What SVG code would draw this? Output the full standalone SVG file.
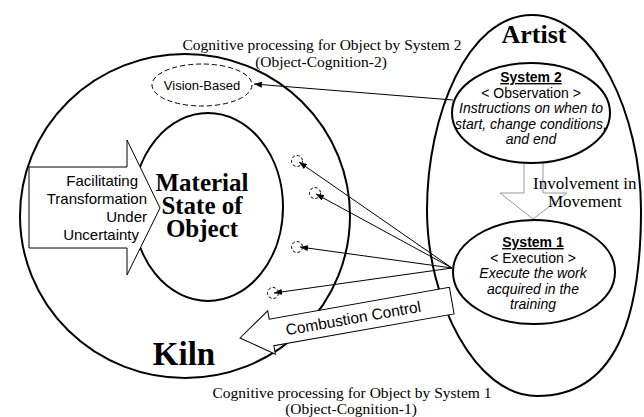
<svg xmlns="http://www.w3.org/2000/svg" width="644" height="417" viewBox="0 0 644 417">
<defs>
<style>
.o{fill:#fff;stroke:#000;stroke-width:2}
.ser{font-family:"Liberation Serif","Times New Roman",serif;fill:#000}
.sans{font-family:"Liberation Sans",Arial,sans-serif;fill:#000}
.b{font-weight:bold}
.i{font-style:italic}
.u{text-decoration:underline}
.c{stroke:#000;stroke-width:1;fill:none}
.dash{fill:none;stroke:#000;stroke-width:1;stroke-dasharray:5,3}
</style>
<marker id="ah" markerUnits="userSpaceOnUse" markerWidth="8" markerHeight="6" refX="8" refY="3" orient="auto">
<path d="M0,0 L8,3 L0,6 Z" fill="#000"/>
</marker>
</defs>
<rect width="644" height="417" fill="#fff"/>

<g id="kiln">
<ellipse class="o" cx="185" cy="216" rx="165" ry="162"/>
<text class="ser b" x="184" y="365" font-size="33" text-anchor="middle">Kiln</text>
</g>

<g id="material-state">
<ellipse class="o" cx="208" cy="207" rx="75" ry="94"/>
<text class="ser b" font-size="25" text-anchor="middle"><tspan x="202" y="191">Material</tspan><tspan x="202" y="214">State of</tspan><tspan x="202" y="237">Object</tspan></text>
</g>

<g id="facilitating">
<polygon class="o" style="stroke-width:1" points="29,167 127,167 127,140 160,208 127,275 127,248 29,248"/>
<text class="sans" font-size="15" text-anchor="end"><tspan x="138" y="186">Facilitating</tspan><tspan x="147" y="204">Transformation</tspan><tspan x="147" y="222">Under</tspan><tspan x="139" y="240">Uncertainty</tspan></text>
</g>

<g id="vision-based">
<ellipse class="dash" cx="202" cy="85" rx="50" ry="21"/>
<text class="sans" x="202" y="90" font-size="13" text-anchor="middle">Vision-Based</text>
</g>

<g id="targets">
<circle class="dash" style="stroke-dasharray:3,2" cx="297" cy="161" r="5.5"/>
<circle class="dash" style="stroke-dasharray:3,2" cx="315" cy="193" r="5.5"/>
<circle class="dash" style="stroke-dasharray:3,2" cx="297" cy="247" r="5.5"/>
<circle class="dash" style="stroke-dasharray:3,2" cx="273" cy="293" r="5.5"/>
</g>

<g id="artist">
<path class="o" d="M532,15 C595,15 641,115 641,210 C641,320 615,396 537,396 C475,396 427,300 427,210 C427,115 468,15 532,15 Z"/>
<text class="ser b" x="534" y="43" font-size="26" text-anchor="middle">Artist</text>
</g>

<g id="involvement">
<polygon fill="#fff" stroke="#999" stroke-width="1" points="524,160 543,160 543,193 567,193 533,219 500,193 524,193"/>
<text class="ser" font-size="17"><tspan x="533" y="189">Involvement in</tspan><tspan x="548" y="207">Movement</tspan></text>
</g>

<g id="system2">
<ellipse class="o" cx="531" cy="113" rx="79" ry="50"/>
<text class="sans" font-size="14" text-anchor="middle"><tspan class="b u" x="531" y="82">System 2</tspan><tspan x="531" y="97.5">&lt; Observation &gt;</tspan><tspan class="i" x="531" y="113">Instructions on when to</tspan><tspan class="i" x="531" y="128.5">start, change conditions,</tspan><tspan class="i" x="531" y="144">and end</tspan></text>
</g>

<g id="system1">
<ellipse class="o" cx="534" cy="272" rx="81" ry="52"/>
<text class="sans" font-size="14" text-anchor="middle"><tspan class="b u" x="533" y="247">System 1</tspan><tspan x="533" y="262.5">&lt; Execution &gt;</tspan><tspan class="i" x="533" y="278">Execute the work</tspan><tspan class="i" x="533" y="293.5">acquired in the</tspan><tspan class="i" x="533" y="309">training</tspan></text>
</g>

<g id="connectors">
<line class="c" x1="453" y1="100" x2="254" y2="84" marker-end="url(#ah)"/>
<line class="c" x1="452" y1="268" x2="299" y2="162" marker-end="url(#ah)"/>
<line class="c" x1="452" y1="268" x2="316" y2="194" marker-end="url(#ah)"/>
<line class="c" x1="452" y1="268" x2="300" y2="247" marker-end="url(#ah)"/>
<line class="c" x1="452" y1="268" x2="274" y2="293" marker-end="url(#ah)"/>
</g>

<g id="combustion" transform="translate(240,338) rotate(-10)">
<polygon class="o" style="stroke-width:1" points="0,0 32,-22 32,-13.5 215,-13.5 215,13.5 32,13.5 32,22"/>
<text class="sans" x="115" y="5.5" font-size="15.5" text-anchor="middle">Combustion Control</text>
</g>

<g id="captions">
<text class="ser" font-size="15.5" text-anchor="middle"><tspan x="322" y="50">Cognitive processing for Object by System 2</tspan><tspan x="321" y="67">(Object-Cognition-2)</tspan></text>
<text class="ser" font-size="15.5" text-anchor="middle"><tspan x="352" y="398">Cognitive processing for Object by System 1</tspan><tspan x="351" y="414">(Object-Cognition-1)</tspan></text>
</g>
</svg>
